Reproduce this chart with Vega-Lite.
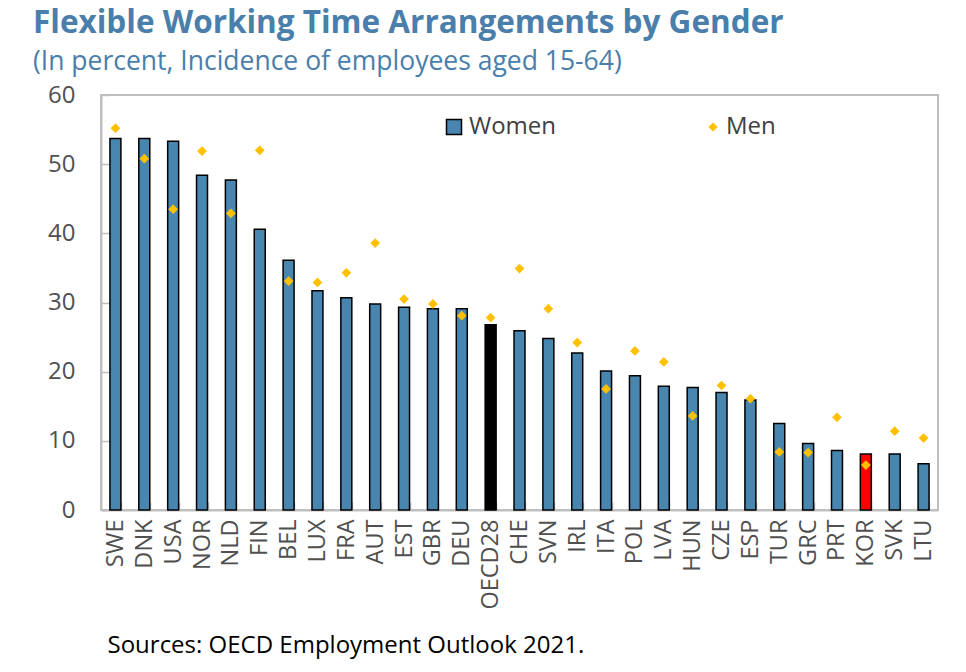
{
  "$schema": "https://vega.github.io/schema/vega-lite/v6.json",
  "width": 837,
  "height": 415,
  "autosize": "none",
  "padding": {"left": 101, "top": 95, "right": 28, "bottom": 162},
  "background": "white",
  "title": {
    "text": "Flexible Working Time Arrangements by Gender",
    "subtitle": "(In percent, Incidence of employees aged 15-64)",
    "anchor": "start",
    "frame": "group",
    "dx": -68,
    "offset": 8,
    "font": "Open Sans",
    "fontSize": 31.5,
    "fontWeight": "bold",
    "color": "#4A7EAB",
    "subtitleFont": "Open Sans",
    "subtitleFontSize": 26.5,
    "subtitleColor": "#4A7EAB",
    "subtitlePadding": 9
  },
  "data": {
    "values": [
      {"country": "SWE", "Women": 53.7, "Men": 55.2},
      {"country": "DNK", "Women": 53.7, "Men": 50.8},
      {"country": "USA", "Women": 53.3, "Men": 43.5},
      {"country": "NOR", "Women": 48.4, "Men": 51.9},
      {"country": "NLD", "Women": 47.7, "Men": 42.9},
      {"country": "FIN", "Women": 40.6, "Men": 52.0},
      {"country": "BEL", "Women": 36.1, "Men": 33.1},
      {"country": "LUX", "Women": 31.7, "Men": 32.9},
      {"country": "FRA", "Women": 30.7, "Men": 34.3},
      {"country": "AUT", "Women": 29.8, "Men": 38.6},
      {"country": "EST", "Women": 29.3, "Men": 30.5},
      {"country": "GBR", "Women": 29.1, "Men": 29.8},
      {"country": "DEU", "Women": 29.1, "Men": 28.1},
      {"country": "OECD28", "Women": 26.8, "Men": 27.8},
      {"country": "CHE", "Women": 25.9, "Men": 34.9},
      {"country": "SVN", "Women": 24.8, "Men": 29.1},
      {"country": "IRL", "Women": 22.7, "Men": 24.2},
      {"country": "ITA", "Women": 20.1, "Men": 17.5},
      {"country": "POL", "Women": 19.4, "Men": 23.0},
      {"country": "LVA", "Women": 17.9, "Men": 21.4},
      {"country": "HUN", "Women": 17.7, "Men": 13.6},
      {"country": "CZE", "Women": 17.0, "Men": 18.0},
      {"country": "ESP", "Women": 15.9, "Men": 16.1},
      {"country": "TUR", "Women": 12.5, "Men": 8.4},
      {"country": "GRC", "Women": 9.6, "Men": 8.3},
      {"country": "PRT", "Women": 8.6, "Men": 13.4},
      {"country": "KOR", "Women": 8.1, "Men": 6.5},
      {"country": "SVK", "Women": 8.1, "Men": 11.4},
      {"country": "LTU", "Women": 6.7, "Men": 10.4}
    ]
  },
  "layer": [
    {
      "transform": [{"fold": ["Women"], "as": ["series", "pct"]}],
      "mark": {"type": "bar", "stroke": "black", "strokeWidth": 1.5},
      "encoding": {
        "x": {
          "field": "country",
          "type": "nominal",
          "sort": null,
          "scale": {"paddingInner": 0.62, "paddingOuter": 0.31},
          "axis": {"title": "Sources: OECD Employment Outlook 2021."}
        },
        "y": {
          "field": "pct",
          "type": "quantitative",
          "scale": {"domain": [0, 60], "nice": false},
          "axis": {"title": null, "values": [0, 10, 20, 30, 40, 50, 60]}
        },
        "color": {
          "condition": [
            {"test": "datum.country === 'KOR'", "value": "#FF0000"},
            {"test": "datum.country === 'OECD28'", "value": "#000000"}
          ],
          "field": "series",
          "type": "nominal",
          "scale": {"domain": ["Women"], "range": ["#4886B0"]},
          "legend": {
            "title": null,
            "orient": "none",
            "legendX": 341,
            "legendY": 20,
            "padding": 0,
            "symbolType": "square",
            "symbolSize": 225,
            "symbolStrokeColor": "black",
            "symbolStrokeWidth": 1.5,
            "labelFont": "Open Sans",
            "labelFontSize": 24,
            "labelColor": "#404040",
            "labelOffset": 3
          }
        }
      }
    },
    {
      "transform": [{"fold": ["Men"], "as": ["series", "pct"]}],
      "mark": {"type": "point", "filled": true, "size": 95, "color": "#FFC000", "opacity": 1},
      "encoding": {
        "x": {
          "field": "country",
          "type": "nominal",
          "sort": null,
          "axis": {"title": "Sources: OECD Employment Outlook 2021."}
        },
        "y": {
          "field": "pct",
          "type": "quantitative",
          "axis": {"title": null, "values": [0, 10, 20, 30, 40, 50, 60]}
        },
        "shape": {
          "field": "series",
          "type": "nominal",
          "scale": {"domain": ["Men"], "range": ["diamond"]},
          "legend": {
            "title": null,
            "orient": "none",
            "legendX": 600,
            "legendY": 20,
            "padding": 0,
            "symbolSize": 85,
            "symbolFillColor": "#FFC000",
            "symbolStrokeColor": "#FFC000",
            "symbolStrokeWidth": 0,
            "labelFont": "Open Sans",
            "labelFontSize": 24,
            "labelColor": "#404040",
            "labelOffset": 1
          }
        }
      }
    }
  ],
  "config": {
    "font": "Open Sans",
    "view": {"stroke": "#BFBFBF", "strokeWidth": 2},
    "axis": {
      "grid": false,
      "domainColor": "#BFBFBF",
      "domainWidth": 2,
      "tickColor": "#BFBFBF",
      "tickWidth": 1.5,
      "tickSize": -8,
      "labelFont": "Open Sans",
      "labelColor": "#505050"
    },
    "axisX": {
      "tickBand": "extent",
      "labelAngle": -90,
      "labelFontSize": 23.5,
      "labelPadding": 17,
      "labelAlign": "right",
      "labelBaseline": "middle",
      "titleFont": "Open Sans",
      "titleFontSize": 24,
      "titleFontWeight": "normal",
      "titleColor": "#000000",
      "titleAnchor": "start",
      "titleAlign": "left",
      "titleBaseline": "top",
      "titleX": 6,
      "titleY": 123
    },
    "axisY": {
      "labelFontSize": 24,
      "labelPadding": 34
    }
  }
}
